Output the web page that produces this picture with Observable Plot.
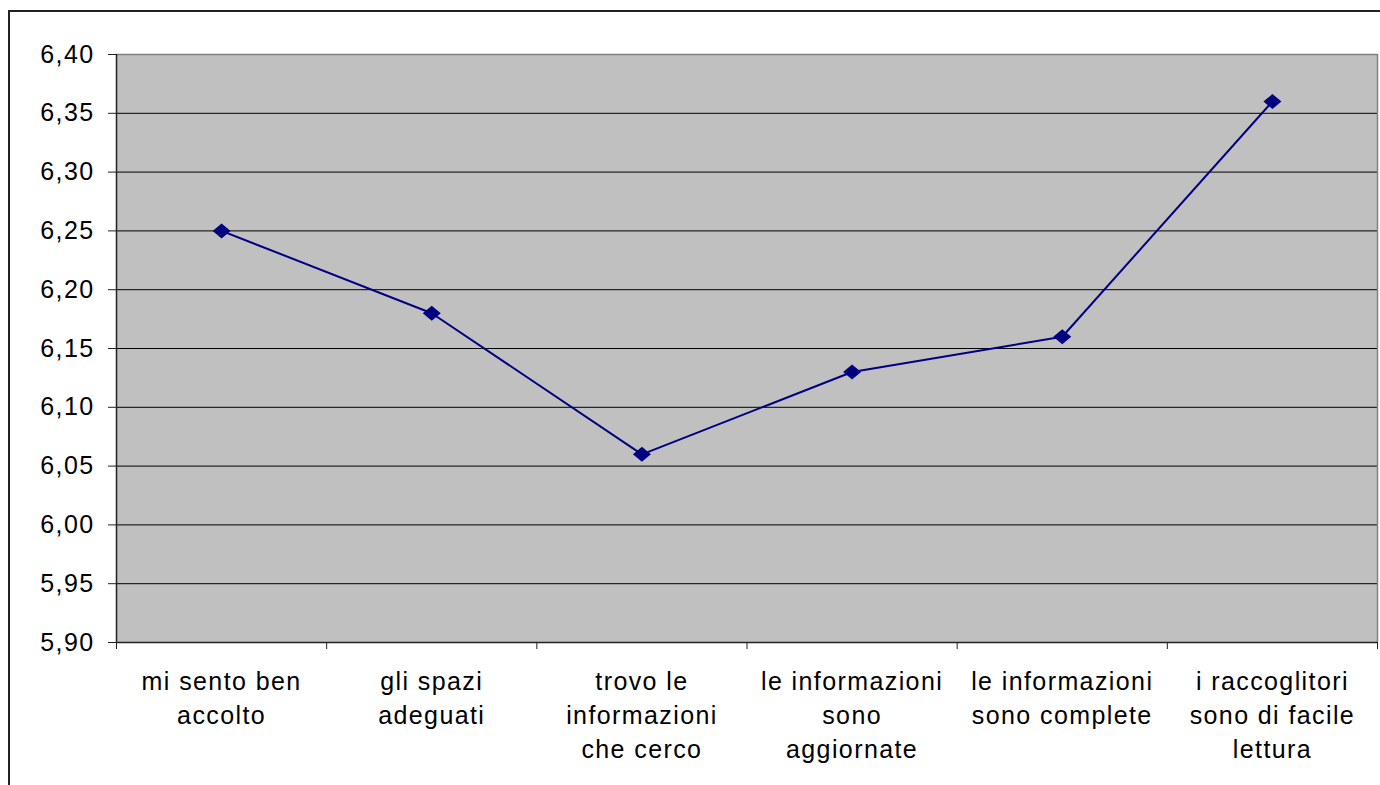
<!DOCTYPE html>
<html>
<head>
<meta charset="utf-8">
<script src="https://cdn.jsdelivr.net/npm/d3@7"></script>
<script src="https://cdn.jsdelivr.net/npm/@observablehq/plot@0.6"></script>
<style>
  html, body { margin: 0; padding: 0; background: #fff; }
  #wrap { position: relative; width: 1380px; height: 785px; overflow: hidden; }
  #frame { position: absolute; left: 8px; top: 10px; width: 1400px; height: 800px;
           border-left: 2px solid #222; border-top: 2px solid #222; box-sizing: border-box; pointer-events: none; }
  #chart { position: absolute; left: 0; top: 0; }
</style>
</head>
<body>
<div id="wrap"><div id="chart"></div><div id="frame"></div></div>
<script>
const categories = [
  "mi sento ben\naccolto",
  "gli spazi\nadeguati",
  "trovo le\ninformazioni\nche cerco",
  "le informazioni\nsono\naggiornate",
  "le informazioni\nsono complete",
  "i raccoglitori\nsono di facile\nlettura"
];
const values = [6.25, 6.18, 6.06, 6.13, 6.16, 6.36];
const yTicks = [5.90, 5.95, 6.00, 6.05, 6.10, 6.15, 6.20, 6.25, 6.30, 6.35, 6.40];

const data = categories.map((c, i) => ({cat: c, idx: i + 0.5, value: values[i]}));
const boundaries = d3.range(categories.length + 1);
const yMin = yTicks[0], yMax = yTicks[yTicks.length - 1];

const flatDiamond = {
  draw(context, size) {
    const w = 9, h = 7.5;
    context.moveTo(0, -h);
    context.lineTo(w, 0);
    context.lineTo(0, h);
    context.lineTo(-w, 0);
    context.closePath();
  }
};

const fmt = d => d.toFixed(2).replace(".", ",");

const chart = Plot.plot({
  width: 1380,
  height: 785,
  marginLeft: 116,
  marginRight: 3,
  marginTop: 54,
  marginBottom: 143,
  style: {fontFamily: "'Liberation Sans', Arial, sans-serif", fontSize: "25px", letterSpacing: "1.4px", background: "#fff", color: "#000"},
  x: {type: "linear", domain: [0, categories.length], axis: null, label: null},
  y: {domain: [yMin, yMax], axis: null, label: null},
  marks: [
    Plot.frame({fill: "#c0c0c0", stroke: null}),
    Plot.ruleY(yTicks.slice(1, -1), {stroke: "#000", strokeWidth: 1}),
    Plot.ruleY([yMax], {stroke: "#808080", strokeWidth: 1.5}),
    Plot.ruleX([categories.length], {stroke: "#808080", strokeWidth: 1.5}),
    Plot.ruleX([0], {stroke: "#222", strokeWidth: 1.5}),
    Plot.ruleY([yMin], {stroke: "#222", strokeWidth: 1.5}),
    Plot.axisY(yTicks, {anchor: "left", label: null, tickSize: 8, tickPadding: 14, tickFormat: fmt, fontSize: 25, stroke: "#222"}),
    Plot.axisX(boundaries, {anchor: "bottom", label: null, tickSize: 7, tickFormat: () => "", stroke: "#222"}),
    Plot.text(data, {x: "idx", y: () => yMin, text: "cat", dy: 23, lineAnchor: "top", lineHeight: 1.36, fontSize: 25, fill: "#000"}),
    Plot.line(data, {x: "idx", y: "value", stroke: "#000080", strokeWidth: 2}),
    Plot.dot(data, {x: "idx", y: "value", symbol: flatDiamond, r: 8, fill: "#000080", stroke: "none"})
  ]
});
document.getElementById("chart").appendChild(chart);
</script>
</body>
</html>
